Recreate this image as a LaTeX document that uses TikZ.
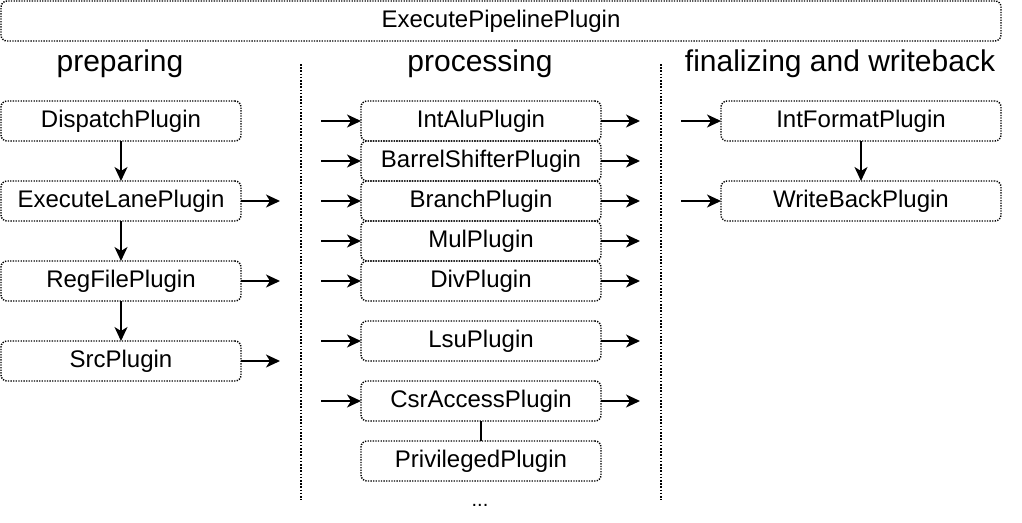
\documentclass[tikz,border=0pt]{standalone}
\usepackage{fontspec}
\setmainfont{Liberation Sans}
\usetikzlibrary{arrows.meta,calc}
\begin{document}
\begin{tikzpicture}[x=1pt,y=-1pt,
  plug/.style={draw=black, line width=1.4pt, dash pattern=on 1.3pt off 1.3pt,
    rounded corners=6pt, minimum height=40pt, inner sep=0pt, outer sep=0pt,
    text height=19pt, text depth=6pt,
    anchor=north west, font=\fontsize{24}{27}\selectfont},
  head/.style={font=\fontsize{30}{33}\selectfont, inner sep=0pt, anchor=base},
  sep/.style={line width=1.6pt, dash pattern=on 1.6pt off 1.6pt},
  arr/.style={line width=1.7pt, -{Stealth[length=14pt, width=13pt, inset=4pt]}},
  link/.style={line width=1.7pt}]
\useasboundingbox (0,0) rectangle (1022,522);

% top container
\node[plug, minimum width=1000pt] (exec) at (1,1) {ExecutePipelinePlugin};

% headings
\node[head] (hprep) at (120,71) {preparing};
\node[head] (hproc) at (480,71) {processing};
\node[head] (hfin) at (840,71) {finalizing and writeback};

% separators
\coordinate (s1a) at (301,64);
\coordinate (s1b) at (301,500);
\coordinate (s2a) at (661,64);
\coordinate (s2b) at (661,500);
\draw[sep] (s1a) -- (s1b);
\draw[sep] (s2a) -- (s2b);

% preparing
\node[plug, minimum width=240pt] (disp) at (1,101) {DispatchPlugin};
\node[plug, minimum width=240pt] (lane) at (1,181) {ExecuteLanePlugin};
\node[plug, minimum width=240pt] (reg) at (1,261) {RegFilePlugin};
\node[plug, minimum width=240pt] (src) at (1,341) {SrcPlugin};
\draw[arr] (disp.south) -- (lane.north);
\draw[arr] (lane.south) -- (reg.north);
\draw[arr] (reg.south) -- (src.north);
\foreach \n in {lane,reg,src}{
  \coordinate (\n-out) at ($(\n.east)+(39,0)$);
}
\draw[arr] (lane.east) -- (lane-out);
\draw[arr] (reg.east) -- (reg-out);
\draw[arr] (src.east) -- (src-out);

% processing
\node[plug, minimum width=240pt] (alu) at (361,101) {IntAluPlugin};
\node[plug, minimum width=240pt] (bar) at (361,141) {BarrelShifterPlugin};
\node[plug, minimum width=240pt] (br) at (361,181) {BranchPlugin};
\node[plug, minimum width=240pt] (mul) at (361,221) {MulPlugin};
\node[plug, minimum width=240pt] (div) at (361,261) {DivPlugin};
\node[plug, minimum width=240pt] (lsu) at (361,321) {LsuPlugin};
\node[plug, minimum width=240pt] (csr) at (361,381) {CsrAccessPlugin};
\node[plug, minimum width=240pt] (priv) at (361,441) {PrivilegedPlugin};
\draw[link] (csr.south) -- (priv.north);
\foreach \n in {alu,bar,br,mul,div,lsu,csr}{
  \coordinate (\n-in) at ($(\n.west)+(-40,0)$);
  \coordinate (\n-out) at ($(\n.east)+(39,0)$);
  \draw[arr] (\n-in) -- (\n.west);
  \draw[arr] (\n.east) -- (\n-out);
}
\node[font=\fontsize{20}{22}\selectfont, inner sep=0pt, anchor=base] (dots) at (480,506) {...};

% finalizing
\node[plug, minimum width=280pt] (fmt) at (721,101) {IntFormatPlugin};
\node[plug, minimum width=280pt] (wb) at (721,181) {WriteBackPlugin};
\draw[arr] (fmt.south) -- (wb.north);
\coordinate (fmt-in) at ($(fmt.west)+(-40,0)$);
\coordinate (wb-in) at ($(wb.west)+(-40,0)$);
\draw[arr] (fmt-in) -- (fmt.west);
\draw[arr] (wb-in) -- (wb.west);
\end{tikzpicture}
\end{document}
